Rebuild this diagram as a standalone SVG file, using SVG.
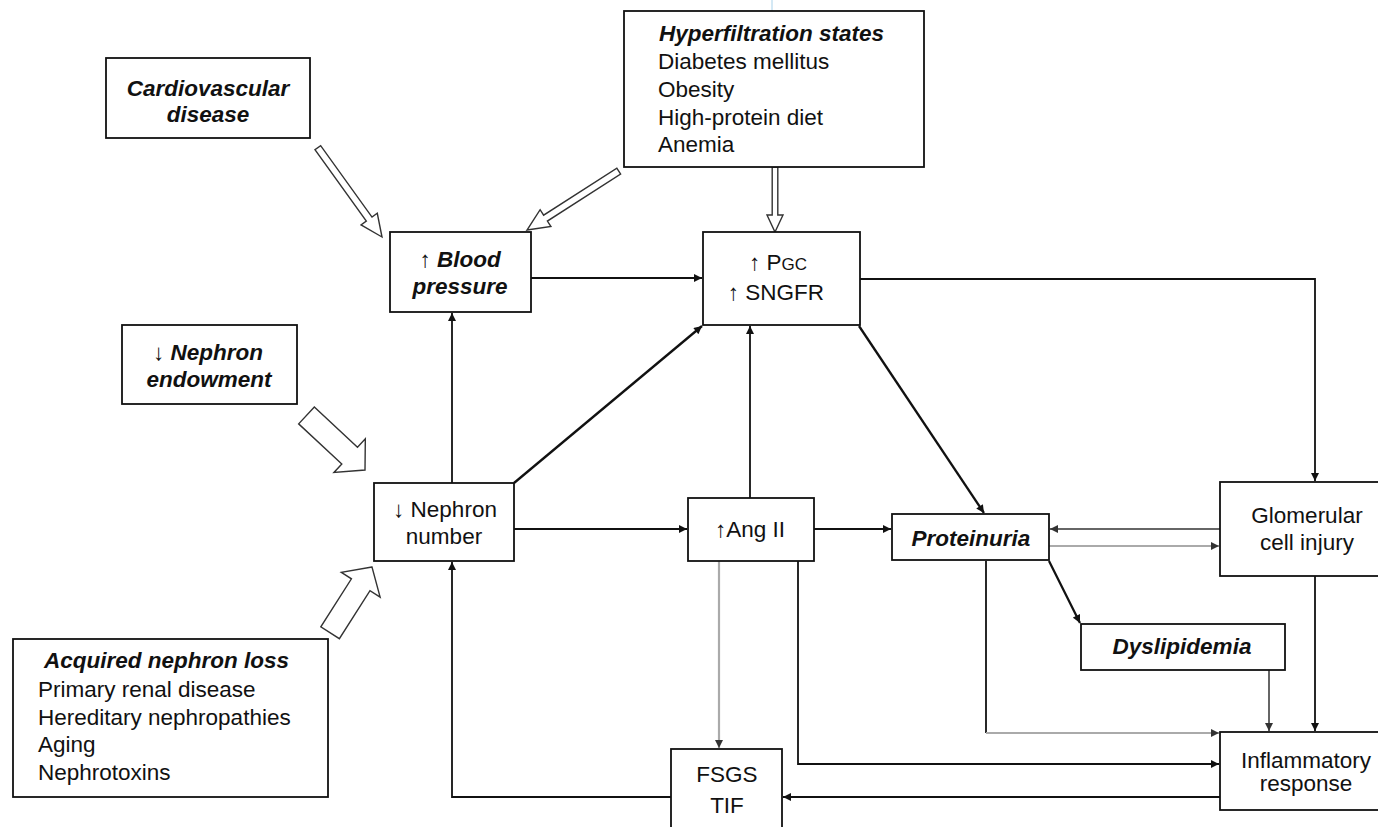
<svg xmlns="http://www.w3.org/2000/svg" width="1378" height="827" viewBox="0 0 1378 827">
<style>
.box{fill:#fff;stroke:#111;stroke-width:1.8}
.t{font-family:"Liberation Sans",Arial,sans-serif;font-size:22.5px;fill:#111}
.bi{font-weight:bold;font-style:italic}
.c{text-anchor:middle}
.ln{fill:none;stroke:#111;stroke-width:1.8}
.thk{stroke-width:2.3}
.g1{fill:none;stroke:#aaa;stroke-width:2.2}
.g2{fill:none;stroke:#666;stroke-width:2}
.hollow{fill:#fff;stroke:#333;stroke-width:1.4;stroke-linejoin:miter}
</style>
<defs>
<marker id="ah" viewBox="0 0 10 10" refX="10" refY="5" markerWidth="10" markerHeight="8" markerUnits="userSpaceOnUse" orient="auto"><path d="M0,0 L10,5 L0,10 z" fill="#111"/></marker>
<marker id="ahg" viewBox="0 0 10 10" refX="10" refY="5" markerWidth="10" markerHeight="8" markerUnits="userSpaceOnUse" orient="auto"><path d="M0,0 L10,5 L0,10 z" fill="#333"/></marker>
</defs>
<rect width="1378" height="827" fill="#fff"/>
<line x1="772" y1="0" x2="772" y2="80" stroke="#a9d2ea" stroke-width="1"/>

<g id="connectors">
<line class="ln" x1="531" y1="278" x2="702" y2="278" marker-end="url(#ah)"/>
<polyline class="ln" points="860,279 1315,279 1315,481" marker-end="url(#ah)"/>
<line class="ln thk" x1="859" y1="326" x2="984" y2="513" marker-end="url(#ah)"/>
<line class="ln" x1="452" y1="483" x2="452" y2="313" marker-end="url(#ah)"/>
<line class="ln thk" x1="514" y1="483" x2="702" y2="326" marker-end="url(#ah)"/>
<line class="ln" x1="514" y1="529" x2="687" y2="529" marker-end="url(#ah)"/>
<line class="ln" x1="750" y1="498" x2="750" y2="326" marker-end="url(#ah)"/>
<line class="ln" x1="814" y1="529" x2="891" y2="529" marker-end="url(#ah)"/>
<line class="g2" x1="1220" y1="529" x2="1050" y2="529" marker-end="url(#ahg)"/>
<line class="g1" x1="1049" y1="546" x2="1219" y2="546" marker-end="url(#ahg)"/>
<line class="ln thk" x1="1049" y1="561" x2="1080" y2="623" marker-end="url(#ah)"/>
<line class="ln" x1="986" y1="561" x2="986" y2="733"/>
<line class="g1" x1="986" y1="733" x2="1219" y2="733" marker-end="url(#ahg)"/>
<line class="g2" x1="1269" y1="670" x2="1269" y2="731" marker-end="url(#ahg)"/>
<line class="ln" x1="1315" y1="576" x2="1315" y2="731" marker-end="url(#ah)"/>
<polyline class="ln" points="798,561 798,764 1219,764" marker-end="url(#ah)"/>
<line class="g1" x1="719" y1="561" x2="719" y2="748" marker-end="url(#ahg)"/>
<line class="ln" x1="1220" y1="797" x2="783" y2="797" marker-end="url(#ah)"/>
<polyline class="ln" points="671,797 452,797 452,562" marker-end="url(#ah)"/>
<polygon class="hollow" transform="translate(382,237) rotate(54.3)" points="0,0 -22,-10 -22,-3.5 -110,-3.5 -110,3.5 -22,3.5 -22,10"/>
<polygon class="hollow" transform="translate(527,230) rotate(147.3)" points="0,0 -22,-10 -22,-3.5 -109,-3.5 -109,3.5 -22,3.5 -22,10"/>
<polygon class="hollow" transform="translate(775,232) rotate(90)" points="0,0 -17,-8 -17,-2.8 -65,-2.8 -65,2.8 -17,2.8 -17,8"/>
<polygon class="hollow" transform="translate(365,470) rotate(43)" points="0,0 -21,-23 -21,-11.5 -80,-11.5 -80,11.5 -21,11.5 -21,23"/>
<polygon class="hollow" transform="translate(372,567) rotate(-57.5)" points="0,0 -21,-23 -21,-11 -78,-11 -78,11 -21,11 -21,23"/>
</g>

<g id="cardiovascular">
<rect class="box" x="106" y="58" width="204" height="80"/>
<text class="t bi c" x="208" y="96">Cardiovascular</text>
<text class="t bi c" x="208" y="122">disease</text>
</g>

<g id="blood-pressure">
<rect class="box" x="390" y="232" width="141" height="80"/>
<text class="t c" x="460" y="267">↑ <tspan class="bi">Blood</tspan></text>
<text class="t bi c" x="460" y="294">pressure</text>
</g>

<g id="hyperfiltration">
<rect class="box" x="624" y="11" width="300" height="156"/>
<text class="t bi" x="659" y="41">Hyperfiltration states</text>
<text class="t" x="658" y="69">Diabetes mellitus</text>
<text class="t" x="658" y="97">Obesity</text>
<text class="t" x="658" y="125">High-protein diet</text>
<text class="t" x="658" y="152">Anemia</text>
</g>

<g id="pgc">
<rect class="box" x="703" y="232" width="157" height="93"/>
<text class="t c" x="778" y="270">↑ P<tspan font-size="17">GC</tspan></text>
<text class="t c" x="776" y="300">↑ SNGFR</text>
</g>

<g id="nephron-endowment">
<rect class="box" x="122" y="325" width="175" height="79"/>
<text class="t c" x="208" y="360">↓ <tspan class="bi">Nephron</tspan></text>
<text class="t bi c" x="209" y="387">endowment</text>
</g>

<g id="nephron-number">
<rect class="box" x="374" y="483" width="140" height="78"/>
<text class="t c" x="445" y="517">↓ Nephron</text>
<text class="t c" x="444" y="544">number</text>
</g>

<g id="acquired">
<rect class="box" x="13" y="639" width="315" height="158"/>
<text class="t bi" x="44" y="668">Acquired nephron loss</text>
<text class="t" x="38" y="697">Primary renal disease</text>
<text class="t" x="38" y="725">Hereditary nephropathies</text>
<text class="t" x="38" y="752">Aging</text>
<text class="t" x="38" y="780">Nephrotoxins</text>
</g>

<g id="ang-ii">
<rect class="box" x="688" y="498" width="126" height="63"/>
<text class="t c" x="750" y="537">↑Ang II</text>
</g>

<g id="proteinuria">
<rect class="box" x="892" y="514" width="157" height="46"/>
<text class="t bi c" x="971" y="546">Proteinuria</text>
</g>

<g id="glomerular">
<rect class="box" x="1220" y="482" width="170" height="94"/>
<text class="t c" x="1307" y="523">Glomerular</text>
<text class="t c" x="1307" y="550">cell injury</text>
</g>

<g id="dyslipidemia">
<rect class="box" x="1081" y="624" width="204" height="46"/>
<text class="t bi c" x="1182" y="654">Dyslipidemia</text>
</g>

<g id="inflammatory">
<rect class="box" x="1220" y="732" width="170" height="78"/>
<text class="t c" x="1306" y="768">Inflammatory</text>
<text class="t c" x="1306" y="791">response</text>
</g>

<g id="fsgs">
<rect class="box" x="671" y="749" width="111" height="90"/>
<text class="t c" x="727" y="782">FSGS</text>
<text class="t c" x="727" y="813">TIF</text>
</g>
</svg>
